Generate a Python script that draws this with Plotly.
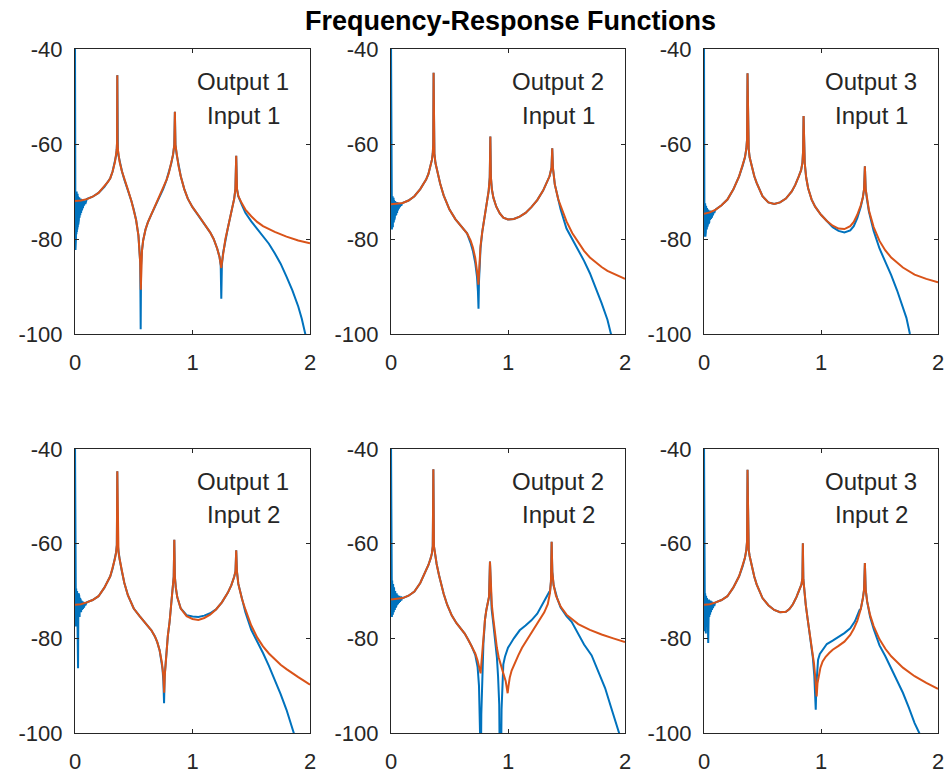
import plotly.graph_objects as go

# ---------------- data ----------------
freq_ticks = [0, 1, 2]
db_ticks = [-100, -80, -60, -40]
db_tick_labels = ["-100", "-80", "-60", "-40"]
output_labels = ["Output 1", "Output 2", "Output 3"]
input_labels = ["Input 1", "Input 2"]
title_text = "Frequency-Response Functions"

# low-frequency scatter of the measured (blue) estimate, shared frequencies
noise_f = [0, 0.002, 0.004, 0.006, 0.008, 0.010, 0.012, 0.014, 0.016, 0.018, 0.020, 0.022, 0.024,
           0.026, 0.028, 0.030, 0.033, 0.036, 0.039, 0.042, 0.045, 0.048, 0.052, 0.056, 0.060, 0.064,
           0.068, 0.072, 0.077, 0.082, 0.088, 0.094, 0.100]

# ---- Output 1 / Input 1 : theoretical (orange)
o11_f = [0, 0.05, 0.1, 0.15, 0.2, 0.25, 0.28, 0.3, 0.32, 0.34, 0.35, 0.355, 0.358, 0.36, 0.362, 0.365,
         0.37, 0.38, 0.4, 0.42, 0.45, 0.48, 0.5, 0.52, 0.54, 0.55, 0.555, 0.56, 0.565, 0.57, 0.58, 0.6,
         0.62, 0.65, 0.7, 0.75, 0.78, 0.8, 0.82, 0.835, 0.845, 0.85, 0.855, 0.865, 0.88, 0.9, 0.93, 0.96,
         1.0, 1.05, 1.1, 1.15, 1.18, 1.21, 1.23, 1.24, 1.245, 1.25, 1.26, 1.28, 1.3, 1.32, 1.34, 1.355,
         1.365, 1.372, 1.379, 1.39, 1.42, 1.45, 1.5, 1.55, 1.6, 1.7, 1.8, 1.9, 2.0]
o11_db = [-72, -71.9, -71.6, -71.1, -70.3, -69, -68, -67.2, -65.8, -63.8, -62.4, -61.2, -59.5, -45.5, -59.5,
          -61.2, -62.4, -63.8, -65.8, -67.5, -69.6, -72, -73.8, -76, -79.3, -82, -85, -90.7, -85, -82.5,
          -80.3, -78, -76.5, -74.8, -72.2, -69.5, -67.5, -66, -64, -62.2, -60.2, -53.2, -60.2, -62.2, -64.5,
          -66.8, -69.5, -71.5, -73.3, -75, -76.7, -78.6, -80, -82, -83.8, -85.2, -86.1, -85, -83, -80,
          -77.8, -75.5, -73.5, -71.5, -69.5, -62.5, -69.5, -71, -72.5, -73.8, -75.2, -76.4, -77.3, -78.5,
          -79.5, -80.3, -80.9]
# measured (blue): low-frequency scatter, spans where it departs from orange, and its own points there
n11_db = [-38, -66, -82.3, -70, -80, -70.5, -79, -70, -78.5, -71, -78, -70.5, -77.5, -71, -77, -71, -76,
          -71.2, -75.5, -71.5, -75, -71.5, -74.5, -71.6, -74, -71.8, -73.5, -71.8, -73, -71.9, -72.6,
          -71.8, -71.6]
b11_spans = [(0.55, 0.57), (1.24, 1.25), (1.42, 2.0)]
b11_f = [0.55, 0.555, 0.559, 0.5625, 0.57, 1.24, 1.245, 1.25,
         1.42, 1.45, 1.5, 1.55, 1.6, 1.65, 1.7, 1.75, 1.8, 1.85, 1.9, 1.93, 1.96, 2.0]
b11_db = [-82, -85, -99, -85.5, -82.5, -85.5, -92.6, -85.5,
          -72.8, -74.5, -76.3, -77.8, -79.5, -81, -83, -85.2, -87.9, -90.8, -94.2, -96.8, -100, -104]

# ---- Output 2 / Input 1
o21_f = [0, 0.05, 0.1, 0.15, 0.2, 0.25, 0.3, 0.32, 0.34, 0.35, 0.357, 0.361, 0.364, 0.367, 0.371, 0.38,
         0.4, 0.42, 0.45, 0.5, 0.55, 0.6, 0.65, 0.68, 0.7, 0.72, 0.735, 0.743, 0.747, 0.751, 0.757, 0.765,
         0.78, 0.8, 0.82, 0.835, 0.844, 0.849, 0.854, 0.862, 0.875, 0.9, 0.93, 0.96, 1.0, 1.05, 1.1, 1.15,
         1.2, 1.25, 1.3, 1.33, 1.355, 1.372, 1.378, 1.384, 1.4, 1.43, 1.45, 1.5, 1.55, 1.6, 1.65, 1.7, 1.75,
         1.8, 1.85, 1.9, 1.95, 2.0]
o21_db = [-72.7, -72.6, -72.4, -71.9, -71, -69.5, -67.5, -66.3, -64.5, -63.3, -62, -60, -45, -60, -62, -64,
          -66.5, -68.3, -70.8, -73.8, -75.8, -77.2, -78.8, -80.3, -81.8, -84, -86.3, -88.2, -89.6, -87.5,
          -84.5, -81.5, -78.5, -75.5, -72.5, -69.8, -67, -58.4, -67, -69.5, -71.3, -73.2, -74.6, -75.5,
          -75.9, -75.8, -75.3, -74.5, -73.3, -71.8, -69.8, -68.3, -66.8, -65, -60.9, -65, -68.5, -71.7,
          -73.1, -76.3, -78.8, -80.8, -82.5, -83.9, -85, -85.9, -86.7, -87.3, -87.9, -88.4]
n21_db = [-38, -64, -77.5, -71, -78, -71.2, -77, -71, -77.5, -71.5, -76.5, -71.3, -76.5, -71.8, -76, -71.8,
          -75.5, -72, -75, -72, -74.8, -72.2, -74.5, -72.3, -74, -72.4, -73.6, -72.5, -73.3, -72.5, -73,
          -72.5, -72.4]
b21_spans = [(0.68, 0.765), (1.45, 2.0)]
b21_f = [0.68, 0.7, 0.72, 0.735, 0.743, 0.748, 0.752, 0.757, 0.765,
         1.45, 1.5, 1.55, 1.6, 1.65, 1.7, 1.75, 1.8, 1.85, 1.88, 1.95, 2.0]
b21_db = [-80.8, -82.5, -85, -88, -91, -94.7, -89, -85, -82,
          -73.8, -77.8, -80, -82.3, -84.6, -87.2, -90.2, -93.5, -97, -100, -102, -103]

# ---- Output 3 / Input 1
o31_f = [0, 0.05, 0.1, 0.15, 0.2, 0.25, 0.3, 0.33, 0.35, 0.362, 0.368, 0.372, 0.376, 0.382, 0.39, 0.41,
         0.43, 0.45, 0.48, 0.5, 0.55, 0.6, 0.65, 0.7, 0.75, 0.78, 0.81, 0.83, 0.841, 0.847, 0.851, 0.855,
         0.861, 0.873, 0.89, 0.92, 0.95, 1.0, 1.05, 1.1, 1.15, 1.2, 1.25, 1.28, 1.31, 1.34, 1.358, 1.368,
         1.375, 1.382, 1.392, 1.41, 1.45, 1.5, 1.55, 1.6, 1.7, 1.8, 1.9, 2.0]
o31_db = [-74.7, -74.4, -73.8, -72.9, -71.7, -69.6, -66.8, -64.6, -62.8, -61, -59, -45.1, -59, -61, -62.8,
          -65, -66.8, -68.2, -70, -71, -72.3, -72.6, -72.3, -71.5, -70, -68.6, -66.8, -65.5, -64, -61.5,
          -54.1, -61.5, -64, -67, -69.3, -71.7, -73.2, -74.9, -76.2, -77.2, -77.8, -77.9, -77.3, -76.4,
          -74.9, -72.9, -71.2, -69.5, -64.7, -69.5, -71.5, -74, -77.5, -80.4, -82.4, -83.9, -86, -87.5,
          -88.4, -89.1]
n31_db = [-38, -64, -79.5, -72.5, -79, -72.5, -79.5, -73, -78.5, -73, -78, -73.2, -78, -73.5, -77.5, -73.5,
          -77, -73.8, -76.8, -73.8, -76.5, -74, -76, -74, -75.8, -74.1, -75.5, -74.2, -75, -74.2, -74.5,
          -74, -73.8]
b31_spans = [(1.05, 1.34), (1.41, 2.0)]
b31_f = [1.05, 1.1, 1.15, 1.2, 1.25, 1.28, 1.31, 1.34,
         1.41, 1.45, 1.5, 1.55, 1.6, 1.65, 1.7, 1.73, 1.76, 1.8]
b31_db = [-76.2, -77.5, -78.3, -78.6, -78.2, -77.3, -75.6, -73.2,
          -74.3, -78.3, -82, -84.8, -87.6, -90.8, -94.2, -96.6, -100, -103]

# ---- Output 1 / Input 2
o12_f = [0, 0.05, 0.1, 0.15, 0.2, 0.25, 0.3, 0.32, 0.34, 0.35, 0.356, 0.36, 0.364, 0.37, 0.38, 0.4, 0.42,
         0.45, 0.5, 0.55, 0.6, 0.65, 0.68, 0.7, 0.72, 0.74, 0.752, 0.759, 0.765, 0.775, 0.79, 0.805, 0.82,
         0.833, 0.84, 0.845, 0.85, 0.858, 0.87, 0.9, 0.95, 1.0, 1.05, 1.1, 1.15, 1.2, 1.25, 1.3, 1.33,
         1.355, 1.366, 1.372, 1.378, 1.39, 1.42, 1.45, 1.5, 1.55, 1.6, 1.65, 1.7, 1.75, 1.8, 1.85, 1.9,
         1.95, 2.0]
o12_db = [-72.9, -72.8, -72.4, -71.9, -71.1, -69.3, -66.9, -65.3, -63.2, -61.8, -60.3, -44.7, -60.3, -61.8,
          -63.3, -66, -68.3, -70.9, -73.7, -75.3, -76.7, -78.3, -79.6, -80.8, -82.5, -85.2, -88, -91.5,
          -87.5, -83.5, -79.5, -76.5, -73, -69.5, -67, -59.2, -67, -69.3, -71.3, -73.7, -75.3, -75.9, -76.1,
          -75.7, -75, -73.9, -72.4, -70.4, -68.8, -67, -65.8, -61.4, -65.8, -68.5, -71.6, -73.9, -77.3,
          -79.8, -81.7, -83.2, -84.5, -85.6, -86.5, -87.4, -88.2, -89, -89.8]
n12_db = [-38, -64, -77, -69.5, -77.5, -69.5, -77, -70, -76.5, -70, -78, -70.5, -77, -86.3, -76, -70.5,
          -76, -71, -75.5, -71.5, -75, -71.8, -74.5, -72, -74, -72.2, -73.8, -72.3, -73.5, -72.5, -73,
          -72.5, -72.4]
b12_spans = [(0.745, 0.772), (0.95, 1.15), (1.45, 2.0)]
b12_f = [0.745, 0.752, 0.758, 0.763, 0.772, 0.95, 1.0, 1.05, 1.1, 1.15,
         1.45, 1.5, 1.55, 1.6, 1.65, 1.7, 1.75, 1.8, 1.83, 1.86, 1.9]
b12_db = [-86.5, -89, -93.7, -88, -84.5, -75.1, -75.4, -75.5, -75.2, -74.7,
          -74.5, -78.2, -80.6, -83.1, -85.8, -88.7, -91.8, -95.1, -97.5, -100, -103]

# ---- Output 2 / Input 2
o22_f = [0, 0.05, 0.1, 0.15, 0.2, 0.25, 0.3, 0.32, 0.34, 0.35, 0.357, 0.362, 0.367, 0.375, 0.39, 0.41,
         0.43, 0.45, 0.48, 0.52, 0.56, 0.6, 0.63, 0.66, 0.69, 0.72, 0.74, 0.755, 0.766, 0.772, 0.78, 0.79,
         0.803, 0.815, 0.828, 0.838, 0.846, 0.854, 0.862, 0.875, 0.89, 0.905, 0.92, 0.94, 0.96, 0.98,
         0.99, 0.997, 1.004, 1.015, 1.031, 1.06, 1.088, 1.12, 1.15, 1.19, 1.23, 1.27, 1.31, 1.34, 1.358,
         1.367, 1.373, 1.379, 1.39, 1.41, 1.45, 1.5, 1.55, 1.6, 1.7, 1.8, 1.9, 2.0]
o22_db = [-71.8, -71.7, -71.5, -71, -70.1, -68.3, -65.8, -64.5, -63, -62, -60.5, -44.3, -60.5, -62, -64.3,
          -66.6, -68.7, -70.6, -72.9, -75.2, -76.8, -78, -79, -80.3, -81.7, -83.2, -84.7, -86.2, -87.4,
          -85.5, -82.5, -79.5, -76.1, -74, -72.3, -71.2, -63.8, -71.2, -73, -76, -79.2, -82, -84, -85.9,
          -87.4, -89, -90.3, -91.6, -90.1, -88.3, -86.8, -85, -83.6, -82, -80.8, -79.1, -77.5, -76, -74.5,
          -72.8, -70.5, -68, -59.6, -66, -68.8, -71, -73.3, -75, -76, -77, -78.2, -79.2, -80, -80.8]
n22_db = [-38, -62, -75.5, -68, -75.5, -67.8, -75, -68.5, -75, -68.5, -74.5, -69, -74.5, -69.2, -74, -69.5,
          -74, -70, -73.5, -70.2, -73.2, -70.5, -73, -70.8, -72.8, -71, -72.5, -71, -72.3, -71.2, -72,
          -71.4, -71.5]
b22_spans = [(0.72, 0.8), (0.86, 1.35), (1.42, 2.0)]
b22_f = [0.72, 0.74, 0.752, 0.758, 0.762, 0.768, 0.772, 0.78, 0.79, 0.8,
         0.86, 0.875, 0.89, 0.905, 0.915, 0.925, 0.93, 0.94, 0.945, 0.952, 0.96, 0.974, 1.0, 1.05, 1.1,
         1.15, 1.2, 1.25, 1.3, 1.34, 1.35,
         1.42, 1.45, 1.5, 1.544, 1.6, 1.65, 1.715, 1.77, 1.83, 1.88, 1.92, 1.945, 2.0]
b22_db = [-83.5, -86, -90, -96, -108, -108, -96, -86, -81, -77.5,
          -73.8, -77, -80.5, -84, -88, -94, -108, -108, -95, -88.5, -85.5, -83.9, -82, -80, -78.3,
          -77.3, -76.2, -74.8, -72.6, -71, -70.3,
          -71.5, -73.5, -75.3, -76.5, -79.2, -81.3, -83.6, -87, -90.5, -94.5, -97.8, -100, -104]

# ---- Output 3 / Input 2
o32_f = [0, 0.05, 0.1, 0.15, 0.2, 0.25, 0.3, 0.33, 0.35, 0.362, 0.368, 0.372, 0.376, 0.382, 0.39, 0.41,
         0.43, 0.45, 0.5, 0.55, 0.6, 0.65, 0.7, 0.73, 0.76, 0.79, 0.815, 0.833, 0.841, 0.845, 0.849, 0.856,
         0.87, 0.885, 0.9, 0.92, 0.94, 0.952, 0.963, 0.97, 0.98, 0.995, 1.014, 1.04, 1.07, 1.1, 1.15, 1.2,
         1.25, 1.28, 1.31, 1.34, 1.358, 1.368, 1.375, 1.382, 1.395, 1.42, 1.45, 1.5, 1.55, 1.6, 1.7, 1.8,
         1.9, 2.0]
o32_db = [-72.9, -72.8, -72.4, -71.9, -71.1, -69.3, -66.9, -64.8, -63, -61.3, -59.5, -44.4, -59.5, -61.3,
          -62.6, -65, -67, -68.6, -71.5, -73, -74, -74.5, -74.4, -73.8, -72.8, -71.3, -69.8, -68.6, -67.3,
          -59.9, -67.5, -69.8, -73, -75.8, -78.2, -81.5, -85.3, -88.5, -92.3, -89.5, -87.8, -86.2, -84.9,
          -83.9, -83.1, -82.4, -81.6, -80.7, -79.3, -78, -76.3, -73.8, -71.5, -69.7, -64.1, -69.7, -72.3,
          -75.1, -77.4, -80.2, -82.2, -83.8, -86.2, -88, -89.4, -90.7]
n32_db = [-38, -64, -78.5, -70.5, -78.5, -70.5, -78, -71, -79, -71, -77.5, -71.2, -77.5, -71.5, -77, -71.5,
          -76.5, -81, -76, -71.8, -75.5, -72, -75, -72, -74.5, -72.2, -74, -72.3, -73.6, -72.5, -73.2,
          -72.5, -72.4]
b32_spans = [(0.93, 1.33), (1.42, 2.0)]
b32_f = [0.93, 0.943, 0.95, 0.955, 0.96, 0.966, 0.975, 0.99, 1.014, 1.05, 1.1, 1.15, 1.2, 1.25, 1.29, 1.33,
         1.42, 1.45, 1.5, 1.55, 1.6, 1.65, 1.7, 1.75, 1.8, 1.84, 1.9]
b32_db = [-84, -88, -91.5, -95.1, -90, -86.5, -84.5, -83.3, -82.4, -81.2, -80.5, -79.7, -78.9, -77.9, -76.4,
          -74, -75.5, -78, -81.5, -83.8, -86.3, -88.8, -91.5, -94.6, -97.9, -100, -103]

# ---------------- figure ----------------
W, H = 952, 777
BLUE = "#0072BD"
ORANGE = "#D95319"
AX = "#262626"
FONT = "Liberation Sans, Arial, Helvetica, sans-serif"

# panel boxes in window pixels
col_px = [(75, 310), (391, 625), (704, 938)]
row_px = [(49, 334), (449, 733)]

panels = [
    (0, 0, o11_f, o11_db, n11_db, b11_spans, b11_f, b11_db),
    (0, 1, o21_f, o21_db, n21_db, b21_spans, b21_f, b21_db),
    (0, 2, o31_f, o31_db, n31_db, b31_spans, b31_f, b31_db),
    (1, 0, o12_f, o12_db, n12_db, b12_spans, b12_f, b12_db),
    (1, 1, o22_f, o22_db, n22_db, b22_spans, b22_f, b22_db),
    (1, 2, o32_f, o32_db, n32_db, b32_spans, b32_f, b32_db),
]


def measured_curve(of, od, nd, spans, bf, bd):
    """Blue curve: low-frequency scatter, then the orange points where the two agree,
    and the blue's own points inside the spans where it departs."""
    pts = [(f, d) for f, d in zip(of, od)
           if f > noise_f[-1] and not any(a <= f <= b for a, b in spans)]
    pts += list(zip(bf, bd))
    pts.sort(key=lambda p: p[0])
    xs = noise_f + [p[0] for p in pts]
    ys = nd + [p[1] for p in pts]
    return xs, ys


fig = go.Figure()
annotations = []
layout_axes = {}

for k, (r, c, of, od, nd, spans, bf, bd) in enumerate(panels):
    idx = k + 1
    xa = "x" if idx == 1 else f"x{idx}"
    ya = "y" if idx == 1 else f"y{idx}"
    bx, by = measured_curve(of, od, nd, spans, bf, bd)
    fig.add_trace(go.Scatter(x=bx, y=by, mode="lines",
                             line=dict(color=BLUE, width=2), xaxis=xa, yaxis=ya,
                             showlegend=False, hoverinfo="skip"))
    fig.add_trace(go.Scatter(x=of, y=od, mode="lines",
                             line=dict(color=ORANGE, width=2), xaxis=xa, yaxis=ya,
                             showlegend=False, hoverinfo="skip"))
    l, rr = col_px[c]
    t, b = row_px[r]
    axcommon = dict(showgrid=False, zeroline=False, showline=True, mirror="ticks",
                    linecolor=AX, linewidth=1, ticks="inside", ticklen=4, tickcolor=AX,
                    tickwidth=1, automargin=False,
                    tickfont=dict(family=FONT, size=22, color=AX))
    layout_axes["xaxis" if idx == 1 else f"xaxis{idx}"] = dict(
        domain=[l / W, rr / W], anchor=ya, range=[0, 2], tickvals=freq_ticks,
        ticktext=[str(v) for v in freq_ticks], ticklabelstandoff=9, **axcommon)
    layout_axes["yaxis" if idx == 1 else f"yaxis{idx}"] = dict(
        domain=[1 - b / H, 1 - t / H], anchor=xa, range=[-100, -40],
        tickvals=db_ticks, ticktext=db_tick_labels, ticklabelstandoff=7, **axcommon)
    annotations.append(dict(text=output_labels[c], x=1.43, y=-46.9, xref=xa, yref=ya,
                            showarrow=False, xanchor="center", yanchor="middle",
                            font=dict(family=FONT, size=24, color=AX)))
    annotations.append(dict(text=input_labels[r], x=1.43, y=-53.9, xref=xa, yref=ya,
                            showarrow=False, xanchor="center", yanchor="middle",
                            font=dict(family=FONT, size=24, color=AX)))

annotations.append(dict(text="<b>" + title_text + "</b>", x=510 / W, y=1 - 21.3 / H,
                        xref="paper", yref="paper", showarrow=False, xanchor="center",
                        yanchor="middle", font=dict(family=FONT, size=27, color="#000000")))

fig.update_layout(template="none", width=W, height=H, margin=dict(l=0, r=0, t=0, b=0, pad=0),
                  paper_bgcolor="white", plot_bgcolor="white", showlegend=False,
                  hovermode=False, annotations=annotations, **layout_axes)

# the default page body has an 8 px margin; remove it so the figure fills the window exactly
fig.write_html("out.html", config={"displayModeBar": False},
               post_script="document.body.style.margin='0px';")
